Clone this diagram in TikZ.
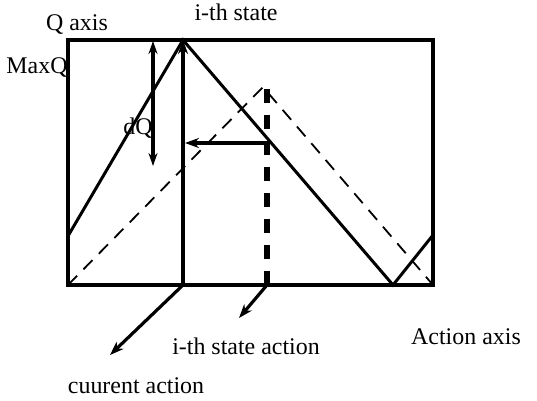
\documentclass[tikz,border=0pt]{standalone}
\usepackage{fontspec}
\setmainfont{Liberation Serif}
\usetikzlibrary{arrows.meta}
\begin{document}
\begin{tikzpicture}[x=1bp,y=-1bp,
  lbl/.style={font=\fontsize{24}{26}\selectfont, inner sep=0pt},
  axisline/.style={line width=3.6pt},
  wave/.style={line width=3pt},
  dwave/.style={line width=1.8pt, dash pattern=on 13bp off 9bp},
  tdash/.style={line width=5.5pt, dash pattern=on 14bp off 12bp},
  arr/.style={-{Stealth[length=14bp,width=10bp]}, line width=3.2pt},
  darr/.style={{Stealth[length=13bp,width=9bp]}-{Stealth[length=13bp,width=9bp]}, line width=3.2pt}
]
\useasboundingbox (0,0) rectangle (537,400);
% box corners
\coordinate (BL) at (68,285);
\coordinate (TL) at (68,40);
\coordinate (TR) at (433,40);
\coordinate (BR) at (433,285);
% solid wave
\coordinate (s1) at (68,236);
\coordinate (apex) at (183,40);
\coordinate (s2) at (393,285);
\coordinate (s3) at (433,235);
% dashed wave
\coordinate (dapex) at (263,87);
% others
\coordinate (cur) at (183,285);
\coordinate (ista) at (267,285);
\coordinate (itop) at (267,88);
\coordinate (corner) at (267,143);
\coordinate (hit) at (185,143);
\coordinate (dqt) at (153,41);
\coordinate (dqb) at (153,166);
\coordinate (curend) at (110,355);
\coordinate (istend) at (239,318);

\draw[axisline] (TL) rectangle (BR);
\draw[wave] (s1) -- (apex) -- (s2) -- (s3);
\draw[dwave] (BL) -- (dapex) -- (BR);
\draw[arr] (cur) -- (apex);
\draw[darr] (dqt) -- (dqb);
\draw[tdash] (ista) -- (itop);
\draw[wave] (corner) -- (corner |- 0,152);
\draw[arr] (corner) -- (hit);
\draw[arr] (cur) -- (curend);
\draw[arr] (ista) -- (istend);

\node[lbl] (qaxis) at (77,25) {Q axis};
\node[lbl] (maxq) at (37,68) {MaxQ};
\node[lbl] (istate) at (236,12) {i-th state};
\node[lbl] (dq) at (138,128) {dQ};
\node[lbl] (isa) at (246,346) {i-th state action};
\node[lbl] (aaxis) at (466,337) {Action axis};
\node[lbl] (ca) at (136,386) {cuurent action};
\end{tikzpicture}
\end{document}
